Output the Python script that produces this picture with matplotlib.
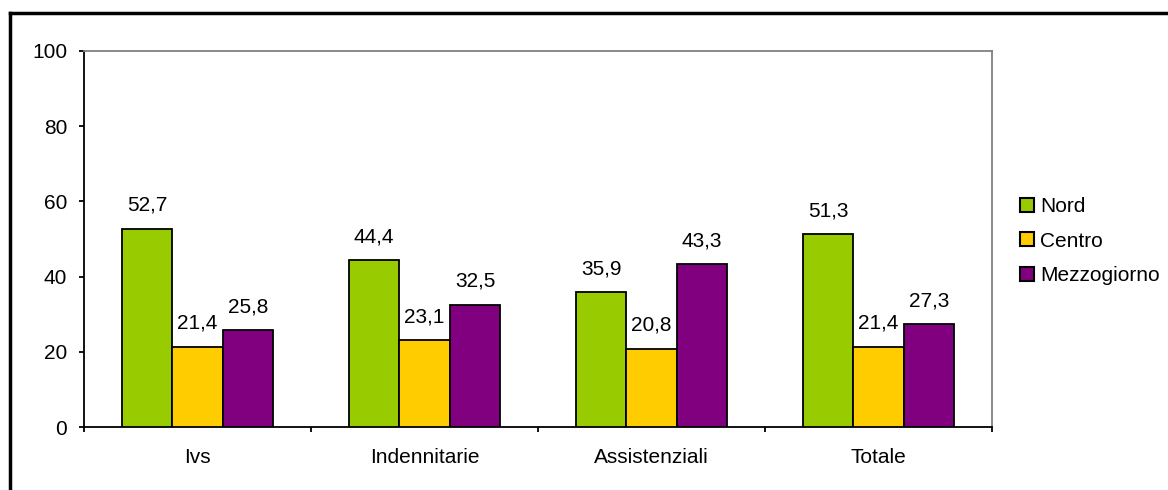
import numpy as np
import matplotlib.pyplot as plt
from matplotlib.lines import Line2D

plt.rcParams['font.family'] = ['Liberation Sans', 'DejaVu Sans']

categories = ['Ivs', 'Indennitarie', 'Assistenziali', 'Totale']
series = ['Nord', 'Centro', 'Mezzogiorno']
nord = [52.7, 44.4, 35.9, 51.3]
centro = [21.4, 23.1, 20.8, 21.4]
mezzogiorno = [25.8, 32.5, 43.3, 27.3]
colors = ['#99CC00', '#FFCC00', '#800080']

fs = 15
fig = plt.figure(figsize=(11.68, 4.9), dpi=100)
ax = fig.add_axes([84 / 1168, 63 / 490, 908 / 1168, 376 / 490])

# cornice esterna (visibili solo lato alto e sinistro)
fig.add_artist(Line2D([9.5 / 1168, 1.0], [1 - 13 / 490, 1 - 13 / 490], color='black', lw=2.5))
fig.add_artist(Line2D([9.5 / 1168, 9.5 / 1168], [0.0, 1 - 13 / 490], color='black', lw=2.5))

x = np.arange(len(categories))
w = 1 / 4.5
for i, (vals, name) in enumerate(zip([nord, centro, mezzogiorno], series)):
    pos = x + (i - 1) * w
    bars = ax.bar(pos, vals, w, color=colors[i], edgecolor='black', lw=1.3, label=name, zorder=3)
    for b, v in zip(bars, vals):
        ax.annotate(f'{v:.1f}'.replace('.', ','), (b.get_x() + b.get_width() / 2, v),
                    xytext=(0, 10), textcoords='offset points', ha='center', va='bottom', fontsize=fs)

ax.set_xlim(-0.5, len(categories) - 0.5)
ax.set_ylim(0, 100)
ax.set_yticks(range(0, 101, 20))
ax.set_xticks(x)
ax.set_xticklabels(categories, fontsize=fs)
ax.set_xticks(np.arange(-0.5, len(categories), 1), minor=True)
ax.tick_params(axis='x', which='major', length=0, pad=15)
ax.tick_params(axis='x', which='minor', length=3.6, width=1.3, direction='out')
ax.tick_params(axis='y', length=3.6, width=1.3, direction='out', labelsize=fs, pad=8.5)

for s in ['left', 'bottom']:
    ax.spines[s].set_color('black')
    ax.spines[s].set_linewidth(1.3)
for s in ['top', 'right']:
    ax.spines[s].set_color('#808080')
    ax.spines[s].set_linewidth(1.3)

handles = [plt.Rectangle((0, 0), 1, 1, facecolor=c, edgecolor='black', lw=1.5) for c in colors]
fig.legend(handles, series, loc='center left', bbox_to_anchor=(1020 / 1168, 1 - 241 / 490),
           frameon=False, fontsize=fs, handlelength=0.65, handleheight=0.65,
           handletextpad=0.3, labelspacing=0.75, borderaxespad=0, borderpad=0)

fig.savefig('out.png', dpi=100)
